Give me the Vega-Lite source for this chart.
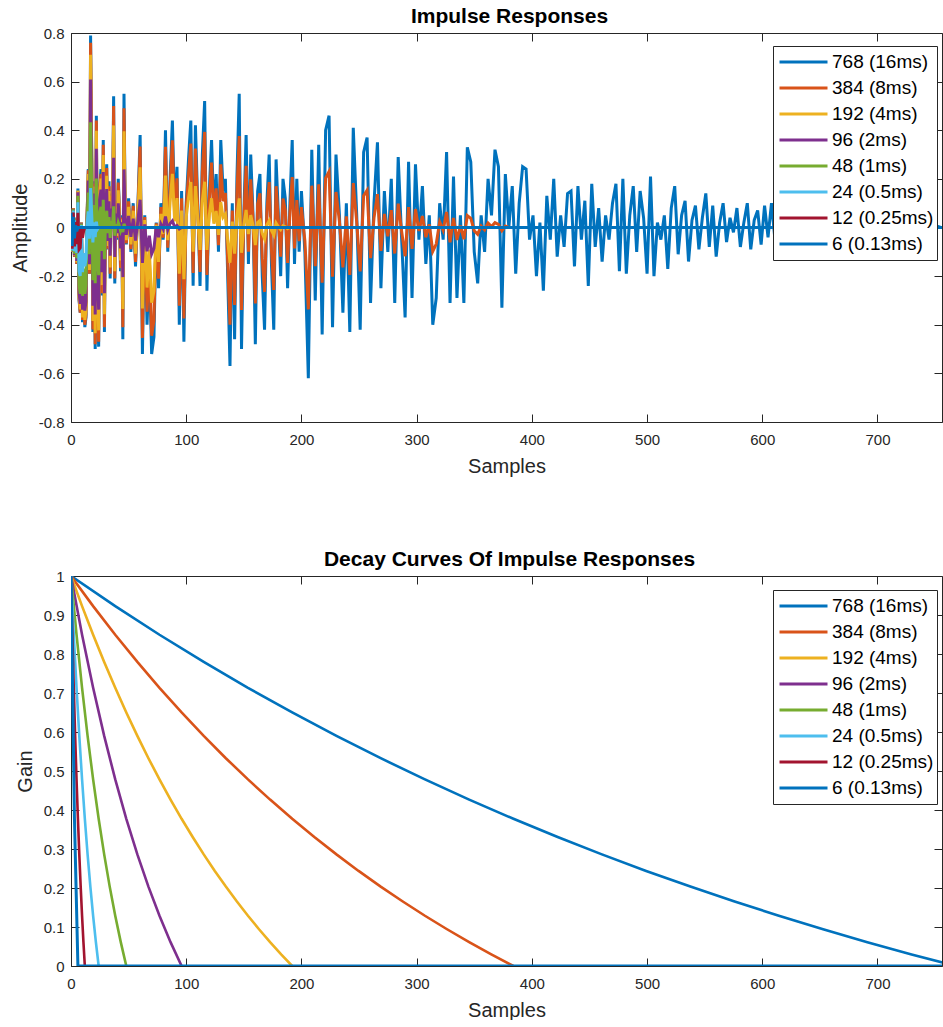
{
"$schema":"https://vega.github.io/schema/vega-lite/v6.json",
"padding":{"left":10,"top":6,"right":0,"bottom":0},
"background":"white",
"bounds":"flush",
"spacing":154,
"config":{"view":{"stroke":null},"font":"Liberation Sans"},
"resolve":{"scale":{"color":"independent"}},
"datasets":{
"ir":[
{"k":"768 (16ms)","x":0,"y":0.06},{"k":"768 (16ms)","x":1,"y":-0.1},{"k":"768 (16ms)","x":2,"y":0.08},{"k":"768 (16ms)","x":3,"y":-0.12},{"k":"768 (16ms)","x":4,"y":0.04},{"k":"768 (16ms)","x":5,"y":-0.15},{"k":"768 (16ms)","x":6,"y":0.16},{"k":"768 (16ms)","x":7,"y":-0.3},{"k":"768 (16ms)","x":8,"y":-0.35},{"k":"768 (16ms)","x":9,"y":0.02},{"k":"768 (16ms)","x":10,"y":-0.39},{"k":"768 (16ms)","x":11,"y":-0.24},{"k":"768 (16ms)","x":12,"y":-0.41},{"k":"768 (16ms)","x":13,"y":-0.37},{"k":"768 (16ms)","x":14,"y":0.05},{"k":"768 (16ms)","x":15,"y":0.24},{"k":"768 (16ms)","x":16,"y":-0.19},{"k":"768 (16ms)","x":17,"y":0.79},{"k":"768 (16ms)","x":18,"y":0.29},{"k":"768 (16ms)","x":19,"y":-0.43},{"k":"768 (16ms)","x":20,"y":0.19},{"k":"768 (16ms)","x":21,"y":-0.5},{"k":"768 (16ms)","x":22,"y":0.46},{"k":"768 (16ms)","x":23,"y":-0.29},{"k":"768 (16ms)","x":24,"y":-0.49},{"k":"768 (16ms)","x":25,"y":0.17},{"k":"768 (16ms)","x":26,"y":0.24},{"k":"768 (16ms)","x":27,"y":-0.28},{"k":"768 (16ms)","x":28,"y":0.36},{"k":"768 (16ms)","x":29,"y":-0.43},{"k":"768 (16ms)","x":30,"y":0.11},{"k":"768 (16ms)","x":31,"y":0.26},{"k":"768 (16ms)","x":32,"y":-0.09},{"k":"768 (16ms)","x":33,"y":0.19},{"k":"768 (16ms)","x":34,"y":-0.21},{"k":"768 (16ms)","x":35,"y":0.14},{"k":"768 (16ms)","x":36,"y":0.05},{"k":"768 (16ms)","x":37,"y":0.54},{"k":"768 (16ms)","x":38,"y":-0.23},{"k":"768 (16ms)","x":39,"y":0.11},{"k":"768 (16ms)","x":40,"y":-0.05},{"k":"768 (16ms)","x":41,"y":0.2},{"k":"768 (16ms)","x":42,"y":0.07},{"k":"768 (16ms)","x":43,"y":-0.18},{"k":"768 (16ms)","x":44,"y":0.05},{"k":"768 (16ms)","x":45,"y":-0.46},{"k":"768 (16ms)","x":46,"y":0.55},{"k":"768 (16ms)","x":47,"y":0.09},{"k":"768 (16ms)","x":48,"y":-0.07},
{"k":"768 (16ms)","x":50,"y":0.12},{"k":"768 (16ms)","x":52,"y":-0.1},{"k":"768 (16ms)","x":54,"y":0.1},{"k":"768 (16ms)","x":56,"y":-0.16},{"k":"768 (16ms)","x":58,"y":0.08},{"k":"768 (16ms)","x":60,"y":0.38},{"k":"768 (16ms)","x":62,"y":-0.52},{"k":"768 (16ms)","x":64,"y":0.05},{"k":"768 (16ms)","x":66,"y":-0.4},{"k":"768 (16ms)","x":68,"y":-0.15},{"k":"768 (16ms)","x":70,"y":-0.52},{"k":"768 (16ms)","x":72,"y":-0.45},{"k":"768 (16ms)","x":74,"y":0.02},{"k":"768 (16ms)","x":76,"y":-0.25},{"k":"768 (16ms)","x":78,"y":0.1},{"k":"768 (16ms)","x":80,"y":-0.05},{"k":"768 (16ms)","x":82,"y":0.4},{"k":"768 (16ms)","x":84,"y":-0.1},{"k":"768 (16ms)","x":86,"y":0.2},{"k":"768 (16ms)","x":88,"y":0.44},{"k":"768 (16ms)","x":90,"y":0.05},{"k":"768 (16ms)","x":92,"y":0.25},{"k":"768 (16ms)","x":94,"y":-0.4},{"k":"768 (16ms)","x":96,"y":0.15},{"k":"768 (16ms)","x":98,"y":-0.47},{"k":"768 (16ms)","x":100,"y":0.1},{"k":"768 (16ms)","x":102,"y":0.28},{"k":"768 (16ms)","x":104,"y":0.44},{"k":"768 (16ms)","x":106,"y":-0.24},{"k":"768 (16ms)","x":108,"y":0.42},{"k":"768 (16ms)","x":110,"y":0.1},{"k":"768 (16ms)","x":112,"y":-0.24},{"k":"768 (16ms)","x":114,"y":0.3},{"k":"768 (16ms)","x":116,"y":0.52},{"k":"768 (16ms)","x":118,"y":-0.26},{"k":"768 (16ms)","x":120,"y":0.15},{"k":"768 (16ms)","x":122,"y":0.36},{"k":"768 (16ms)","x":124,"y":0.05},{"k":"768 (16ms)","x":126,"y":0.22},{"k":"768 (16ms)","x":128,"y":-0.1},{"k":"768 (16ms)","x":130,"y":0.36},{"k":"768 (16ms)","x":132,"y":0.15},{"k":"768 (16ms)","x":134,"y":0.2},{"k":"768 (16ms)","x":136,"y":-0.2},{"k":"768 (16ms)","x":138,"y":-0.57},{"k":"768 (16ms)","x":140,"y":0.1},{"k":"768 (16ms)","x":142,"y":-0.46},{"k":"768 (16ms)","x":144,"y":0.2},{"k":"768 (16ms)","x":146,"y":0.55},{"k":"768 (16ms)","x":148,"y":-0.5},{"k":"768 (16ms)","x":150,"y":0.05},{"k":"768 (16ms)","x":152,"y":0.38},{"k":"768 (16ms)","x":154,"y":-0.15},{"k":"768 (16ms)","x":156,"y":0.3},{"k":"768 (16ms)","x":158,"y":0.05},{"k":"768 (16ms)","x":160,"y":-0.48},{"k":"768 (16ms)","x":162,"y":0.15},{"k":"768 (16ms)","x":164,"y":0.22},{"k":"768 (16ms)","x":166,"y":-0.2},{"k":"768 (16ms)","x":168,"y":-0.42},{"k":"768 (16ms)","x":170,"y":0.1},{"k":"768 (16ms)","x":172,"y":0.3},{"k":"768 (16ms)","x":174,"y":-0.15},{"k":"768 (16ms)","x":176,"y":-0.42},{"k":"768 (16ms)","x":178,"y":0.28},{"k":"768 (16ms)","x":180,"y":0.05},{"k":"768 (16ms)","x":182,"y":-0.2},{"k":"768 (16ms)","x":184,"y":0.2},{"k":"768 (16ms)","x":186,"y":0.12},{"k":"768 (16ms)","x":188,"y":-0.25},{"k":"768 (16ms)","x":190,"y":0.1},{"k":"768 (16ms)","x":192,"y":0.36},{"k":"768 (16ms)","x":194,"y":-0.15},{"k":"768 (16ms)","x":196,"y":0.2},{"k":"768 (16ms)","x":198,"y":-0.1},{"k":"768 (16ms)","x":200,"y":0.15},
{"k":"768 (16ms)","x":203,"y":-0.1},{"k":"768 (16ms)","x":206,"y":-0.62},{"k":"768 (16ms)","x":209,"y":0.32},{"k":"768 (16ms)","x":212,"y":-0.3},{"k":"768 (16ms)","x":215,"y":0.34},{"k":"768 (16ms)","x":218,"y":-0.44},{"k":"768 (16ms)","x":221,"y":0.4},{"k":"768 (16ms)","x":224,"y":0.46},{"k":"768 (16ms)","x":227,"y":-0.41},{"k":"768 (16ms)","x":230,"y":0.3},{"k":"768 (16ms)","x":233,"y":0.05},{"k":"768 (16ms)","x":236,"y":-0.35},{"k":"768 (16ms)","x":239,"y":0.1},{"k":"768 (16ms)","x":242,"y":-0.43},{"k":"768 (16ms)","x":245,"y":0.41},{"k":"768 (16ms)","x":248,"y":0.05},{"k":"768 (16ms)","x":251,"y":-0.42},{"k":"768 (16ms)","x":254,"y":0.31},{"k":"768 (16ms)","x":257,"y":0.37},{"k":"768 (16ms)","x":260,"y":-0.31},{"k":"768 (16ms)","x":263,"y":0.1},{"k":"768 (16ms)","x":266,"y":0.35},{"k":"768 (16ms)","x":269,"y":-0.25},{"k":"768 (16ms)","x":272,"y":0.15},{"k":"768 (16ms)","x":275,"y":-0.1},{"k":"768 (16ms)","x":278,"y":0.2},{"k":"768 (16ms)","x":281,"y":-0.31},{"k":"768 (16ms)","x":284,"y":0.29},{"k":"768 (16ms)","x":287,"y":-0.05},{"k":"768 (16ms)","x":290,"y":-0.37},{"k":"768 (16ms)","x":293,"y":0.27},{"k":"768 (16ms)","x":296,"y":-0.29},{"k":"768 (16ms)","x":299,"y":0.26},{"k":"768 (16ms)","x":302,"y":-0.05},{"k":"768 (16ms)","x":305,"y":0.17},{"k":"768 (16ms)","x":308,"y":-0.15},{"k":"768 (16ms)","x":311,"y":0.05},{"k":"768 (16ms)","x":314,"y":-0.4},{"k":"768 (16ms)","x":317,"y":-0.29},{"k":"768 (16ms)","x":320,"y":0.1},{"k":"768 (16ms)","x":323,"y":-0.05},{"k":"768 (16ms)","x":326,"y":0.31},{"k":"768 (16ms)","x":329,"y":-0.31},{"k":"768 (16ms)","x":332,"y":0.21},{"k":"768 (16ms)","x":335,"y":-0.29},{"k":"768 (16ms)","x":338,"y":0.05},{"k":"768 (16ms)","x":341,"y":-0.31},{"k":"768 (16ms)","x":344,"y":0.33},{"k":"768 (16ms)","x":347,"y":0.27},{"k":"768 (16ms)","x":350,"y":-0.1},{"k":"768 (16ms)","x":353,"y":-0.23},{"k":"768 (16ms)","x":356,"y":0.05},{"k":"768 (16ms)","x":359,"y":-0.1},{"k":"768 (16ms)","x":362,"y":0.2},{"k":"768 (16ms)","x":365,"y":0.05},{"k":"768 (16ms)","x":368,"y":0.32},{"k":"768 (16ms)","x":371,"y":0.25},{"k":"768 (16ms)","x":374,"y":-0.33},{"k":"768 (16ms)","x":377,"y":0.22},{"k":"768 (16ms)","x":380,"y":0},{"k":"768 (16ms)","x":383,"y":0.17},{"k":"768 (16ms)","x":386,"y":-0.19},{"k":"768 (16ms)","x":389,"y":0.1},{"k":"768 (16ms)","x":392,"y":0.25},{"k":"768 (16ms)","x":395,"y":0.24},{"k":"768 (16ms)","x":398,"y":-0.05},{"k":"768 (16ms)","x":401,"y":0.05},{"k":"768 (16ms)","x":404,"y":-0.2},{"k":"768 (16ms)","x":407,"y":0.02},{"k":"768 (16ms)","x":410,"y":-0.26},{"k":"768 (16ms)","x":413,"y":0.13},{"k":"768 (16ms)","x":416,"y":-0.05},{"k":"768 (16ms)","x":419,"y":0.2},{"k":"768 (16ms)","x":422,"y":-0.12},{"k":"768 (16ms)","x":425,"y":0.05},{"k":"768 (16ms)","x":428,"y":-0.08},{"k":"768 (16ms)","x":431,"y":0.14},{"k":"768 (16ms)","x":434,"y":0.15},{"k":"768 (16ms)","x":437,"y":-0.16},{"k":"768 (16ms)","x":440,"y":0.17},{"k":"768 (16ms)","x":443,"y":-0.05},{"k":"768 (16ms)","x":446,"y":0.11},{"k":"768 (16ms)","x":449,"y":-0.24},{"k":"768 (16ms)","x":452,"y":0.18},{"k":"768 (16ms)","x":455,"y":-0.08},{"k":"768 (16ms)","x":458,"y":0.08},{"k":"768 (16ms)","x":461,"y":-0.14},{"k":"768 (16ms)","x":464,"y":0.05},{"k":"768 (16ms)","x":467,"y":-0.05},{"k":"768 (16ms)","x":470,"y":0.1},{"k":"768 (16ms)","x":473,"y":0.18},{"k":"768 (16ms)","x":476,"y":-0.18},{"k":"768 (16ms)","x":479,"y":0.2},{"k":"768 (16ms)","x":482,"y":-0.19},{"k":"768 (16ms)","x":485,"y":0.05},{"k":"768 (16ms)","x":488,"y":0.17},{"k":"768 (16ms)","x":491,"y":-0.1},{"k":"768 (16ms)","x":494,"y":0.15},{"k":"768 (16ms)","x":497,"y":0.04},{"k":"768 (16ms)","x":500,"y":-0.19},{"k":"768 (16ms)","x":503,"y":0.21},{"k":"768 (16ms)","x":506,"y":-0.2},{"k":"768 (16ms)","x":509,"y":0.02},{"k":"768 (16ms)","x":512,"y":-0.05},{"k":"768 (16ms)","x":515,"y":0.05},{"k":"768 (16ms)","x":518,"y":-0.17},{"k":"768 (16ms)","x":521,"y":0.08},{"k":"768 (16ms)","x":524,"y":0.17},{"k":"768 (16ms)","x":527,"y":-0.11},{"k":"768 (16ms)","x":530,"y":0.05},{"k":"768 (16ms)","x":533,"y":0.11},{"k":"768 (16ms)","x":536,"y":-0.14},{"k":"768 (16ms)","x":539,"y":0.03},{"k":"768 (16ms)","x":542,"y":0.09},{"k":"768 (16ms)","x":545,"y":-0.09},{"k":"768 (16ms)","x":548,"y":0.04},{"k":"768 (16ms)","x":551,"y":0.14},{"k":"768 (16ms)","x":554,"y":-0.08},{"k":"768 (16ms)","x":557,"y":0.09},{"k":"768 (16ms)","x":560,"y":-0.12},{"k":"768 (16ms)","x":563,"y":0.02},{"k":"768 (16ms)","x":566,"y":0.1},{"k":"768 (16ms)","x":569,"y":-0.06},{"k":"768 (16ms)","x":572,"y":0.04},{"k":"768 (16ms)","x":575,"y":-0.02},{"k":"768 (16ms)","x":578,"y":0.08},{"k":"768 (16ms)","x":581,"y":-0.08},{"k":"768 (16ms)","x":584,"y":0.02},{"k":"768 (16ms)","x":587,"y":0.1},{"k":"768 (16ms)","x":590,"y":-0.09},{"k":"768 (16ms)","x":593,"y":0.03},{"k":"768 (16ms)","x":596,"y":0.07},{"k":"768 (16ms)","x":599,"y":-0.07},{"k":"768 (16ms)","x":602,"y":0.09},{"k":"768 (16ms)","x":605,"y":-0.04},{"k":"768 (16ms)","x":608,"y":0.1},{"k":"768 (16ms)","x":611,"y":-0.05},{"k":"768 (16ms)","x":617,"y":0.07},{"k":"768 (16ms)","x":623,"y":-0.07},{"k":"768 (16ms)","x":629,"y":0.06},{"k":"768 (16ms)","x":635,"y":-0.06},{"k":"768 (16ms)","x":641,"y":0.05},{"k":"768 (16ms)","x":647,"y":-0.05},{"k":"768 (16ms)","x":653,"y":0.05},{"k":"768 (16ms)","x":659,"y":-0.04},{"k":"768 (16ms)","x":665,"y":0.04},{"k":"768 (16ms)","x":671,"y":-0.04},{"k":"768 (16ms)","x":677,"y":0.03},{"k":"768 (16ms)","x":683,"y":-0.03},{"k":"768 (16ms)","x":689,"y":0.03},{"k":"768 (16ms)","x":695,"y":-0.03},{"k":"768 (16ms)","x":701,"y":0.02},{"k":"768 (16ms)","x":707,"y":-0.02},{"k":"768 (16ms)","x":713,"y":0.02},{"k":"768 (16ms)","x":719,"y":-0.02},{"k":"768 (16ms)","x":725,"y":0.01},{"k":"768 (16ms)","x":731,"y":-0.01},{"k":"768 (16ms)","x":737,"y":0.01},{"k":"768 (16ms)","x":743,"y":-0.01},{"k":"768 (16ms)","x":749,"y":0.01},{"k":"768 (16ms)","x":755,"y":0},
{"k":"384 (8ms)","x":0,"y":0.06},{"k":"384 (8ms)","x":1,"y":-0.1},{"k":"384 (8ms)","x":2,"y":0.08},{"k":"384 (8ms)","x":3,"y":-0.12},{"k":"384 (8ms)","x":4,"y":0.04},{"k":"384 (8ms)","x":5,"y":-0.15},{"k":"384 (8ms)","x":6,"y":0.15},{"k":"384 (8ms)","x":7,"y":-0.29},{"k":"384 (8ms)","x":8,"y":-0.35},{"k":"384 (8ms)","x":9,"y":0.02},{"k":"384 (8ms)","x":10,"y":-0.38},{"k":"384 (8ms)","x":11,"y":-0.24},{"k":"384 (8ms)","x":12,"y":-0.4},{"k":"384 (8ms)","x":13,"y":-0.36},{"k":"384 (8ms)","x":14,"y":0.05},{"k":"384 (8ms)","x":15,"y":0.235},{"k":"384 (8ms)","x":16,"y":-0.19},{"k":"384 (8ms)","x":17,"y":0.76},{"k":"384 (8ms)","x":18,"y":0.28},{"k":"384 (8ms)","x":19,"y":-0.42},{"k":"384 (8ms)","x":20,"y":0.18},{"k":"384 (8ms)","x":21,"y":-0.48},{"k":"384 (8ms)","x":22,"y":0.44},{"k":"384 (8ms)","x":23,"y":-0.27},{"k":"384 (8ms)","x":24,"y":-0.47},{"k":"384 (8ms)","x":25,"y":0.16},{"k":"384 (8ms)","x":26,"y":0.22},{"k":"384 (8ms)","x":27,"y":-0.27},{"k":"384 (8ms)","x":28,"y":0.34},{"k":"384 (8ms)","x":29,"y":-0.41},{"k":"384 (8ms)","x":30,"y":0.105},{"k":"384 (8ms)","x":31,"y":0.245},{"k":"384 (8ms)","x":32,"y":-0.087},{"k":"384 (8ms)","x":33,"y":0.17},{"k":"384 (8ms)","x":34,"y":-0.19},{"k":"384 (8ms)","x":35,"y":0.13},{"k":"384 (8ms)","x":36,"y":0.043},{"k":"384 (8ms)","x":37,"y":0.5},{"k":"384 (8ms)","x":38,"y":-0.21},{"k":"384 (8ms)","x":39,"y":0.1},{"k":"384 (8ms)","x":40,"y":-0.042},{"k":"384 (8ms)","x":41,"y":0.185},{"k":"384 (8ms)","x":42,"y":0.067},{"k":"384 (8ms)","x":43,"y":-0.166},{"k":"384 (8ms)","x":44,"y":0.041},{"k":"384 (8ms)","x":45,"y":-0.41},{"k":"384 (8ms)","x":46,"y":0.49},{"k":"384 (8ms)","x":47,"y":0.08},{"k":"384 (8ms)","x":48,"y":-0.065},
{"k":"384 (8ms)","x":50,"y":0.108},{"k":"384 (8ms)","x":52,"y":-0.089},{"k":"384 (8ms)","x":54,"y":0.089},{"k":"384 (8ms)","x":56,"y":-0.142},{"k":"384 (8ms)","x":58,"y":0.07},{"k":"384 (8ms)","x":60,"y":0.333},{"k":"384 (8ms)","x":62,"y":-0.454},{"k":"384 (8ms)","x":64,"y":0.043},{"k":"384 (8ms)","x":66,"y":-0.346},{"k":"384 (8ms)","x":68,"y":-0.129},{"k":"384 (8ms)","x":70,"y":-0.445},{"k":"384 (8ms)","x":72,"y":-0.383},{"k":"384 (8ms)","x":74,"y":0.017},{"k":"384 (8ms)","x":76,"y":-0.211},{"k":"384 (8ms)","x":78,"y":0.084},{"k":"384 (8ms)","x":80,"y":-0.042},{"k":"384 (8ms)","x":82,"y":0.332},{"k":"384 (8ms)","x":84,"y":-0.083},{"k":"384 (8ms)","x":86,"y":0.164},{"k":"384 (8ms)","x":88,"y":0.359},{"k":"384 (8ms)","x":90,"y":0.041},{"k":"384 (8ms)","x":92,"y":0.202},{"k":"384 (8ms)","x":94,"y":-0.322},{"k":"384 (8ms)","x":96,"y":0.12},{"k":"384 (8ms)","x":98,"y":-0.374},{"k":"384 (8ms)","x":100,"y":0.079},{"k":"384 (8ms)","x":102,"y":0.22},{"k":"384 (8ms)","x":104,"y":0.345},{"k":"384 (8ms)","x":106,"y":-0.187},{"k":"384 (8ms)","x":108,"y":0.325},{"k":"384 (8ms)","x":110,"y":0.077},{"k":"384 (8ms)","x":112,"y":-0.183},{"k":"384 (8ms)","x":114,"y":0.228},{"k":"384 (8ms)","x":116,"y":0.393},{"k":"384 (8ms)","x":118,"y":-0.195},{"k":"384 (8ms)","x":120,"y":0.112},{"k":"384 (8ms)","x":122,"y":0.267},{"k":"384 (8ms)","x":124,"y":0.037},{"k":"384 (8ms)","x":126,"y":0.161},{"k":"384 (8ms)","x":128,"y":-0.073},{"k":"384 (8ms)","x":130,"y":0.26},{"k":"384 (8ms)","x":132,"y":0.108},{"k":"384 (8ms)","x":134,"y":0.142},{"k":"384 (8ms)","x":136,"y":-0.141},{"k":"384 (8ms)","x":138,"y":-0.4},{"k":"384 (8ms)","x":140,"y":0.07},{"k":"384 (8ms)","x":142,"y":-0.319},{"k":"384 (8ms)","x":144,"y":0.138},{"k":"384 (8ms)","x":146,"y":0.376},{"k":"384 (8ms)","x":148,"y":-0.339},{"k":"384 (8ms)","x":150,"y":0.034},{"k":"384 (8ms)","x":152,"y":0.254},{"k":"384 (8ms)","x":154,"y":-0.1},{"k":"384 (8ms)","x":156,"y":0.198},{"k":"384 (8ms)","x":158,"y":0.033},{"k":"384 (8ms)","x":160,"y":-0.312},{"k":"384 (8ms)","x":162,"y":0.097},{"k":"384 (8ms)","x":164,"y":0.141},{"k":"384 (8ms)","x":166,"y":-0.127},{"k":"384 (8ms)","x":168,"y":-0.265},{"k":"384 (8ms)","x":170,"y":0.063},{"k":"384 (8ms)","x":172,"y":0.187},{"k":"384 (8ms)","x":174,"y":-0.093},{"k":"384 (8ms)","x":176,"y":-0.257},{"k":"384 (8ms)","x":178,"y":0.17},{"k":"384 (8ms)","x":180,"y":0.03},{"k":"384 (8ms)","x":182,"y":-0.12},{"k":"384 (8ms)","x":184,"y":0.119},{"k":"384 (8ms)","x":186,"y":0.071},{"k":"384 (8ms)","x":188,"y":-0.146},{"k":"384 (8ms)","x":190,"y":0.058},{"k":"384 (8ms)","x":192,"y":0.207},{"k":"384 (8ms)","x":194,"y":-0.086},{"k":"384 (8ms)","x":196,"y":0.113},{"k":"384 (8ms)","x":198,"y":-0.056},{"k":"384 (8ms)","x":200,"y":0.084},
{"k":"384 (8ms)","x":203,"y":-0.055},{"k":"384 (8ms)","x":206,"y":-0.337},{"k":"384 (8ms)","x":209,"y":0.172},{"k":"384 (8ms)","x":212,"y":-0.159},{"k":"384 (8ms)","x":215,"y":0.178},{"k":"384 (8ms)","x":218,"y":-0.227},{"k":"384 (8ms)","x":221,"y":0.203},{"k":"384 (8ms)","x":224,"y":0.23},{"k":"384 (8ms)","x":227,"y":-0.202},{"k":"384 (8ms)","x":230,"y":0.146},{"k":"384 (8ms)","x":233,"y":0.024},{"k":"384 (8ms)","x":236,"y":-0.164},{"k":"384 (8ms)","x":239,"y":0.046},{"k":"384 (8ms)","x":242,"y":-0.195},{"k":"384 (8ms)","x":245,"y":0.183},{"k":"384 (8ms)","x":248,"y":0.022},{"k":"384 (8ms)","x":251,"y":-0.181},{"k":"384 (8ms)","x":254,"y":0.131},{"k":"384 (8ms)","x":257,"y":0.153},{"k":"384 (8ms)","x":260,"y":-0.126},{"k":"384 (8ms)","x":263,"y":0.04},{"k":"384 (8ms)","x":266,"y":0.137},{"k":"384 (8ms)","x":269,"y":-0.096},{"k":"384 (8ms)","x":272,"y":0.056},{"k":"384 (8ms)","x":275,"y":-0.036},{"k":"384 (8ms)","x":278,"y":0.071},{"k":"384 (8ms)","x":281,"y":-0.107},{"k":"384 (8ms)","x":284,"y":0.098},{"k":"384 (8ms)","x":287,"y":-0.016},{"k":"384 (8ms)","x":290,"y":-0.118},{"k":"384 (8ms)","x":293,"y":0.084},{"k":"384 (8ms)","x":296,"y":-0.088},{"k":"384 (8ms)","x":299,"y":0.076},{"k":"384 (8ms)","x":302,"y":-0.014},{"k":"384 (8ms)","x":305,"y":0.047},{"k":"384 (8ms)","x":308,"y":-0.04},{"k":"384 (8ms)","x":311,"y":0.013},{"k":"384 (8ms)","x":314,"y":-0.098},{"k":"384 (8ms)","x":317,"y":-0.068},{"k":"384 (8ms)","x":320,"y":0.023},{"k":"384 (8ms)","x":323,"y":-0.011},{"k":"384 (8ms)","x":326,"y":0.064},{"k":"384 (8ms)","x":329,"y":-0.061},{"k":"384 (8ms)","x":332,"y":0.039},{"k":"384 (8ms)","x":335,"y":-0.051},{"k":"384 (8ms)","x":338,"y":0.008},{"k":"384 (8ms)","x":341,"y":-0.048},{"k":"384 (8ms)","x":344,"y":0.049},{"k":"384 (8ms)","x":347,"y":0.038},{"k":"384 (8ms)","x":350,"y":-0.013},{"k":"384 (8ms)","x":353,"y":-0.028},{"k":"384 (8ms)","x":356,"y":0.006},{"k":"384 (8ms)","x":359,"y":-0.01},{"k":"384 (8ms)","x":362,"y":0.018},{"k":"384 (8ms)","x":365,"y":0.004},{"k":"384 (8ms)","x":368,"y":0.02},{"k":"384 (8ms)","x":371,"y":0.013},{"k":"384 (8ms)","x":374,"y":-0.013},{"k":"384 (8ms)","x":377,"y":0.006},{"k":"384 (8ms)","x":380,"y":0},{"k":"384 (8ms)","x":384,"y":0},
{"k":"192 (4ms)","x":0,"y":0.06},{"k":"192 (4ms)","x":1,"y":-0.1},{"k":"192 (4ms)","x":2,"y":0.078},{"k":"192 (4ms)","x":3,"y":-0.116},{"k":"192 (4ms)","x":4,"y":0.039},{"k":"192 (4ms)","x":5,"y":-0.144},{"k":"192 (4ms)","x":6,"y":0.152},{"k":"192 (4ms)","x":7,"y":-0.283},{"k":"192 (4ms)","x":8,"y":-0.337},{"k":"192 (4ms)","x":9,"y":0.019},{"k":"192 (4ms)","x":10,"y":-0.37},{"k":"192 (4ms)","x":11,"y":-0.229},{"k":"192 (4ms)","x":12,"y":-0.38},{"k":"192 (4ms)","x":13,"y":-0.34},{"k":"192 (4ms)","x":14,"y":0.045},{"k":"192 (4ms)","x":15,"y":0.22},{"k":"192 (4ms)","x":16,"y":-0.175},{"k":"192 (4ms)","x":17,"y":0.71},{"k":"192 (4ms)","x":18,"y":0.26},{"k":"192 (4ms)","x":19,"y":-0.385},{"k":"192 (4ms)","x":20,"y":0.169},{"k":"192 (4ms)","x":21,"y":-0.435},{"k":"192 (4ms)","x":22,"y":0.398},{"k":"192 (4ms)","x":23,"y":-0.247},{"k":"192 (4ms)","x":24,"y":-0.423},{"k":"192 (4ms)","x":25,"y":0.145},{"k":"192 (4ms)","x":26,"y":0.201},{"k":"192 (4ms)","x":27,"y":-0.237},{"k":"192 (4ms)","x":28,"y":0.298},{"k":"192 (4ms)","x":29,"y":-0.357},{"k":"192 (4ms)","x":30,"y":0.092},{"k":"192 (4ms)","x":31,"y":0.213},{"k":"192 (4ms)","x":32,"y":-0.076},{"k":"192 (4ms)","x":33,"y":0.15},{"k":"192 (4ms)","x":34,"y":-0.164},{"k":"192 (4ms)","x":35,"y":0.11},{"k":"192 (4ms)","x":36,"y":0.036},{"k":"192 (4ms)","x":37,"y":0.42},{"k":"192 (4ms)","x":38,"y":-0.18},{"k":"192 (4ms)","x":39,"y":0.086},{"k":"192 (4ms)","x":40,"y":-0.035},{"k":"192 (4ms)","x":41,"y":0.153},{"k":"192 (4ms)","x":42,"y":0.055},{"k":"192 (4ms)","x":43,"y":-0.136},{"k":"192 (4ms)","x":44,"y":0.034},{"k":"192 (4ms)","x":45,"y":-0.335},{"k":"192 (4ms)","x":46,"y":0.396},{"k":"192 (4ms)","x":47,"y":0.065},{"k":"192 (4ms)","x":48,"y":-0.052},
{"k":"192 (4ms)","x":50,"y":0.085},{"k":"192 (4ms)","x":52,"y":-0.07},{"k":"192 (4ms)","x":54,"y":0.069},{"k":"192 (4ms)","x":56,"y":-0.108},{"k":"192 (4ms)","x":58,"y":0.053},{"k":"192 (4ms)","x":60,"y":0.248},{"k":"192 (4ms)","x":62,"y":-0.333},{"k":"192 (4ms)","x":64,"y":0.031},{"k":"192 (4ms)","x":66,"y":-0.247},{"k":"192 (4ms)","x":68,"y":-0.091},{"k":"192 (4ms)","x":70,"y":-0.309},{"k":"192 (4ms)","x":72,"y":-0.262},{"k":"192 (4ms)","x":74,"y":0.011},{"k":"192 (4ms)","x":76,"y":-0.142},{"k":"192 (4ms)","x":78,"y":0.056},{"k":"192 (4ms)","x":80,"y":-0.027},{"k":"192 (4ms)","x":82,"y":0.214},{"k":"192 (4ms)","x":84,"y":-0.052},{"k":"192 (4ms)","x":86,"y":0.103},{"k":"192 (4ms)","x":88,"y":0.221},{"k":"192 (4ms)","x":90,"y":0.025},{"k":"192 (4ms)","x":92,"y":0.121},{"k":"192 (4ms)","x":94,"y":-0.19},{"k":"192 (4ms)","x":96,"y":0.07},{"k":"192 (4ms)","x":98,"y":-0.213},{"k":"192 (4ms)","x":100,"y":0.044},{"k":"192 (4ms)","x":102,"y":0.122},{"k":"192 (4ms)","x":104,"y":0.187},{"k":"192 (4ms)","x":106,"y":-0.1},{"k":"192 (4ms)","x":108,"y":0.17},{"k":"192 (4ms)","x":110,"y":0.039},{"k":"192 (4ms)","x":112,"y":-0.092},{"k":"192 (4ms)","x":114,"y":0.112},{"k":"192 (4ms)","x":116,"y":0.188},{"k":"192 (4ms)","x":118,"y":-0.092},{"k":"192 (4ms)","x":120,"y":0.051},{"k":"192 (4ms)","x":122,"y":0.12},{"k":"192 (4ms)","x":124,"y":0.016},{"k":"192 (4ms)","x":126,"y":0.068},{"k":"192 (4ms)","x":128,"y":-0.03},{"k":"192 (4ms)","x":130,"y":0.104},{"k":"192 (4ms)","x":132,"y":0.042},{"k":"192 (4ms)","x":134,"y":0.055},{"k":"192 (4ms)","x":136,"y":-0.053},{"k":"192 (4ms)","x":138,"y":-0.145},{"k":"192 (4ms)","x":140,"y":0.024},{"k":"192 (4ms)","x":142,"y":-0.108},{"k":"192 (4ms)","x":144,"y":0.045},{"k":"192 (4ms)","x":146,"y":0.12},{"k":"192 (4ms)","x":148,"y":-0.104},{"k":"192 (4ms)","x":150,"y":0.01},{"k":"192 (4ms)","x":152,"y":0.072},{"k":"192 (4ms)","x":154,"y":-0.027},{"k":"192 (4ms)","x":156,"y":0.051},{"k":"192 (4ms)","x":158,"y":0.008},{"k":"192 (4ms)","x":160,"y":-0.072},{"k":"192 (4ms)","x":162,"y":0.021},{"k":"192 (4ms)","x":164,"y":0.029},{"k":"192 (4ms)","x":166,"y":-0.024},{"k":"192 (4ms)","x":168,"y":-0.047},{"k":"192 (4ms)","x":170,"y":0.01},{"k":"192 (4ms)","x":172,"y":0.028},{"k":"192 (4ms)","x":174,"y":-0.012},{"k":"192 (4ms)","x":176,"y":-0.031},{"k":"192 (4ms)","x":178,"y":0.018},{"k":"192 (4ms)","x":180,"y":0.003},{"k":"192 (4ms)","x":182,"y":-0.009},{"k":"192 (4ms)","x":184,"y":0.007},{"k":"192 (4ms)","x":186,"y":0.003},{"k":"192 (4ms)","x":188,"y":-0.005},{"k":"192 (4ms)","x":190,"y":0.001},{"k":"192 (4ms)","x":192,"y":0},
{"k":"96 (2ms)","x":0,"y":0.06},{"k":"96 (2ms)","x":1,"y":-0.098},{"k":"96 (2ms)","x":2,"y":0.077},{"k":"96 (2ms)","x":3,"y":-0.114},{"k":"96 (2ms)","x":4,"y":0.037},{"k":"96 (2ms)","x":5,"y":-0.138},{"k":"96 (2ms)","x":6,"y":0.145},{"k":"96 (2ms)","x":7,"y":-0.267},{"k":"96 (2ms)","x":8,"y":-0.314},{"k":"96 (2ms)","x":9,"y":0.017},{"k":"96 (2ms)","x":10,"y":-0.338},{"k":"96 (2ms)","x":11,"y":-0.207},{"k":"96 (2ms)","x":12,"y":-0.342},{"k":"96 (2ms)","x":13,"y":-0.304},{"k":"96 (2ms)","x":14,"y":0.039},{"k":"96 (2ms)","x":15,"y":0.193},{"k":"96 (2ms)","x":16,"y":-0.151},{"k":"96 (2ms)","x":17,"y":0.609},{"k":"96 (2ms)","x":18,"y":0.219},{"k":"96 (2ms)","x":19,"y":-0.322},{"k":"96 (2ms)","x":20,"y":0.14},{"k":"96 (2ms)","x":21,"y":-0.358},{"k":"96 (2ms)","x":22,"y":0.324},{"k":"96 (2ms)","x":23,"y":-0.199},{"k":"96 (2ms)","x":24,"y":-0.338},{"k":"96 (2ms)","x":25,"y":0.115},{"k":"96 (2ms)","x":26,"y":0.156},{"k":"96 (2ms)","x":27,"y":-0.184},{"k":"96 (2ms)","x":28,"y":0.228},{"k":"96 (2ms)","x":29,"y":-0.27},{"k":"96 (2ms)","x":30,"y":0.069},{"k":"96 (2ms)","x":31,"y":0.158},{"k":"96 (2ms)","x":32,"y":-0.055},{"k":"96 (2ms)","x":33,"y":0.108},{"k":"96 (2ms)","x":34,"y":-0.116},{"k":"96 (2ms)","x":35,"y":0.078},{"k":"96 (2ms)","x":36,"y":0.025},{"k":"96 (2ms)","x":37,"y":0.287},{"k":"96 (2ms)","x":38,"y":-0.121},{"k":"96 (2ms)","x":39,"y":0.057},{"k":"96 (2ms)","x":40,"y":-0.023},{"k":"96 (2ms)","x":41,"y":0.099},{"k":"96 (2ms)","x":42,"y":0.035},{"k":"96 (2ms)","x":43,"y":-0.086},{"k":"96 (2ms)","x":44,"y":0.021},{"k":"96 (2ms)","x":45,"y":-0.204},{"k":"96 (2ms)","x":46,"y":0.239},{"k":"96 (2ms)","x":47,"y":0.039},{"k":"96 (2ms)","x":48,"y":-0.03},
{"k":"96 (2ms)","x":50,"y":0.048},{"k":"96 (2ms)","x":52,"y":-0.038},{"k":"96 (2ms)","x":54,"y":0.036},{"k":"96 (2ms)","x":56,"y":-0.054},{"k":"96 (2ms)","x":58,"y":0.026},{"k":"96 (2ms)","x":60,"y":0.114},{"k":"96 (2ms)","x":62,"y":-0.146},{"k":"96 (2ms)","x":64,"y":0.013},{"k":"96 (2ms)","x":66,"y":-0.098},{"k":"96 (2ms)","x":68,"y":-0.034},{"k":"96 (2ms)","x":70,"y":-0.109},{"k":"96 (2ms)","x":72,"y":-0.086},{"k":"96 (2ms)","x":74,"y":0.003},{"k":"96 (2ms)","x":76,"y":-0.04},{"k":"96 (2ms)","x":78,"y":0.014},{"k":"96 (2ms)","x":80,"y":-0.006},{"k":"96 (2ms)","x":82,"y":0.045},{"k":"96 (2ms)","x":84,"y":-0.01},{"k":"96 (2ms)","x":86,"y":0.016},{"k":"96 (2ms)","x":88,"y":0.027},{"k":"96 (2ms)","x":90,"y":0.002},{"k":"96 (2ms)","x":92,"y":0.008},{"k":"96 (2ms)","x":94,"y":-0.006},{"k":"96 (2ms)","x":96,"y":0},
{"k":"48 (1ms)","x":0,"y":0.06},{"k":"48 (1ms)","x":1,"y":-0.097},{"k":"48 (1ms)","x":2,"y":0.075},{"k":"48 (1ms)","x":3,"y":-0.108},{"k":"48 (1ms)","x":4,"y":0.035},{"k":"48 (1ms)","x":5,"y":-0.126},{"k":"48 (1ms)","x":6,"y":0.13},{"k":"48 (1ms)","x":7,"y":-0.236},{"k":"48 (1ms)","x":8,"y":-0.273},{"k":"48 (1ms)","x":9,"y":0.015},{"k":"48 (1ms)","x":10,"y":-0.281},{"k":"48 (1ms)","x":11,"y":-0.169},{"k":"48 (1ms)","x":12,"y":-0.273},{"k":"48 (1ms)","x":13,"y":-0.238},{"k":"48 (1ms)","x":14,"y":0.03},{"k":"48 (1ms)","x":15,"y":0.144},{"k":"48 (1ms)","x":16,"y":-0.11},{"k":"48 (1ms)","x":17,"y":0.433},{"k":"48 (1ms)","x":18,"y":0.152},{"k":"48 (1ms)","x":19,"y":-0.217},{"k":"48 (1ms)","x":20,"y":0.092},{"k":"48 (1ms)","x":21,"y":-0.229},{"k":"48 (1ms)","x":22,"y":0.201},{"k":"48 (1ms)","x":23,"y":-0.119},{"k":"48 (1ms)","x":24,"y":-0.196},{"k":"48 (1ms)","x":25,"y":0.064},{"k":"48 (1ms)","x":26,"y":0.085},{"k":"48 (1ms)","x":27,"y":-0.096},{"k":"48 (1ms)","x":28,"y":0.114},{"k":"48 (1ms)","x":29,"y":-0.13},{"k":"48 (1ms)","x":30,"y":0.032},{"k":"48 (1ms)","x":31,"y":0.069},{"k":"48 (1ms)","x":32,"y":-0.023},{"k":"48 (1ms)","x":33,"y":0.043},{"k":"48 (1ms)","x":34,"y":-0.043},{"k":"48 (1ms)","x":35,"y":0.027},{"k":"48 (1ms)","x":36,"y":0.008},{"k":"48 (1ms)","x":37,"y":0.087},{"k":"48 (1ms)","x":38,"y":-0.034},{"k":"48 (1ms)","x":39,"y":0.014},{"k":"48 (1ms)","x":40,"y":-0.005},{"k":"48 (1ms)","x":41,"y":0.02},{"k":"48 (1ms)","x":42,"y":0.006},{"k":"48 (1ms)","x":43,"y":-0.013},{"k":"48 (1ms)","x":44,"y":0.003},{"k":"48 (1ms)","x":45,"y":-0.019},{"k":"48 (1ms)","x":46,"y":0.015},{"k":"48 (1ms)","x":47,"y":0.001},{"k":"48 (1ms)","x":48,"y":0},
{"k":"24 (0.5ms)","x":0,"y":0.06},{"k":"24 (0.5ms)","x":1,"y":-0.094},{"k":"24 (0.5ms)","x":2,"y":0.07},{"k":"24 (0.5ms)","x":3,"y":-0.098},{"k":"24 (0.5ms)","x":4,"y":0.03},{"k":"24 (0.5ms)","x":5,"y":-0.105},{"k":"24 (0.5ms)","x":6,"y":0.104},{"k":"24 (0.5ms)","x":7,"y":-0.18},{"k":"24 (0.5ms)","x":8,"y":-0.199},{"k":"24 (0.5ms)","x":9,"y":0.01},{"k":"24 (0.5ms)","x":10,"y":-0.184},{"k":"24 (0.5ms)","x":11,"y":-0.105},{"k":"24 (0.5ms)","x":12,"y":-0.159},{"k":"24 (0.5ms)","x":13,"y":-0.129},{"k":"24 (0.5ms)","x":14,"y":0.015},{"k":"24 (0.5ms)","x":15,"y":0.066},{"k":"24 (0.5ms)","x":16,"y":-0.046},{"k":"24 (0.5ms)","x":17,"y":0.162},{"k":"24 (0.5ms)","x":18,"y":0.05},{"k":"24 (0.5ms)","x":19,"y":-0.061},{"k":"24 (0.5ms)","x":20,"y":0.021},{"k":"24 (0.5ms)","x":21,"y":-0.04},{"k":"24 (0.5ms)","x":22,"y":0.024},{"k":"24 (0.5ms)","x":23,"y":-0.007},{"k":"24 (0.5ms)","x":24,"y":0},
{"k":"12 (0.25ms)","x":0,"y":0.06},{"k":"12 (0.25ms)","x":1,"y":-0.087},{"k":"12 (0.25ms)","x":2,"y":0.061},{"k":"12 (0.25ms)","x":3,"y":-0.078},{"k":"12 (0.25ms)","x":4,"y":0.022},{"k":"12 (0.25ms)","x":5,"y":-0.069},{"k":"12 (0.25ms)","x":6,"y":0.06},{"k":"12 (0.25ms)","x":7,"y":-0.09},{"k":"12 (0.25ms)","x":8,"y":-0.083},{"k":"12 (0.25ms)","x":9,"y":0.003},{"k":"12 (0.25ms)","x":10,"y":-0.042},{"k":"12 (0.25ms)","x":11,"y":-0.013},{"k":"12 (0.25ms)","x":12,"y":0},
{"k":"6 (0.13ms)","x":0,"y":0.06},{"k":"6 (0.13ms)","x":1,"y":-0.076},{"k":"6 (0.13ms)","x":2,"y":0.044},{"k":"6 (0.13ms)","x":3,"y":-0.045},{"k":"6 (0.13ms)","x":4,"y":0.009},{"k":"6 (0.13ms)","x":5,"y":-0.016},{"k":"6 (0.13ms)","x":6,"y":0},{"k":"6 (0.13ms)","x":768,"y":0}
],
"dc":[
{"k":"768 (16ms)","x":0,"y":1},{"k":"768 (16ms)","x":38.4,"y":0.9228},{"k":"768 (16ms)","x":76.8,"y":0.8494},{"k":"768 (16ms)","x":115.2,"y":0.7797},{"k":"768 (16ms)","x":153.6,"y":0.7132},{"k":"768 (16ms)","x":192,"y":0.6501},{"k":"768 (16ms)","x":230.4,"y":0.59},{"k":"768 (16ms)","x":268.8,"y":0.5328},{"k":"768 (16ms)","x":307.2,"y":0.4784},{"k":"768 (16ms)","x":345.6,"y":0.4267},{"k":"768 (16ms)","x":384,"y":0.3775},{"k":"768 (16ms)","x":422.4,"y":0.3308},{"k":"768 (16ms)","x":460.8,"y":0.2862},{"k":"768 (16ms)","x":499.2,"y":0.2438},{"k":"768 (16ms)","x":537.6,"y":0.2036},{"k":"768 (16ms)","x":576,"y":0.1653},{"k":"768 (16ms)","x":614.4,"y":0.1288},{"k":"768 (16ms)","x":652.8,"y":0.0942},{"k":"768 (16ms)","x":691.2,"y":0.0612},{"k":"768 (16ms)","x":729.6,"y":0.0298},{"k":"768 (16ms)","x":768,"y":0},
{"k":"384 (8ms)","x":0,"y":1},{"k":"384 (8ms)","x":19.2,"y":0.9228},{"k":"384 (8ms)","x":38.4,"y":0.8494},{"k":"384 (8ms)","x":57.6,"y":0.7797},{"k":"384 (8ms)","x":76.8,"y":0.7132},{"k":"384 (8ms)","x":96,"y":0.6501},{"k":"384 (8ms)","x":115.2,"y":0.59},{"k":"384 (8ms)","x":134.4,"y":0.5328},{"k":"384 (8ms)","x":153.6,"y":0.4784},{"k":"384 (8ms)","x":172.8,"y":0.4267},{"k":"384 (8ms)","x":192,"y":0.3775},{"k":"384 (8ms)","x":211.2,"y":0.3308},{"k":"384 (8ms)","x":230.4,"y":0.2862},{"k":"384 (8ms)","x":249.6,"y":0.2438},{"k":"384 (8ms)","x":268.8,"y":0.2036},{"k":"384 (8ms)","x":288,"y":0.1653},{"k":"384 (8ms)","x":307.2,"y":0.1288},{"k":"384 (8ms)","x":326.4,"y":0.0942},{"k":"384 (8ms)","x":345.6,"y":0.0612},{"k":"384 (8ms)","x":364.8,"y":0.0298},{"k":"384 (8ms)","x":384,"y":0},
{"k":"192 (4ms)","x":0,"y":1},{"k":"192 (4ms)","x":9.6,"y":0.9228},{"k":"192 (4ms)","x":19.2,"y":0.8494},{"k":"192 (4ms)","x":28.8,"y":0.7797},{"k":"192 (4ms)","x":38.4,"y":0.7132},{"k":"192 (4ms)","x":48,"y":0.6501},{"k":"192 (4ms)","x":57.6,"y":0.59},{"k":"192 (4ms)","x":67.2,"y":0.5328},{"k":"192 (4ms)","x":76.8,"y":0.4784},{"k":"192 (4ms)","x":86.4,"y":0.4267},{"k":"192 (4ms)","x":96,"y":0.3775},{"k":"192 (4ms)","x":105.6,"y":0.3308},{"k":"192 (4ms)","x":115.2,"y":0.2862},{"k":"192 (4ms)","x":124.8,"y":0.2438},{"k":"192 (4ms)","x":134.4,"y":0.2036},{"k":"192 (4ms)","x":144,"y":0.1653},{"k":"192 (4ms)","x":153.6,"y":0.1288},{"k":"192 (4ms)","x":163.2,"y":0.0942},{"k":"192 (4ms)","x":172.8,"y":0.0612},{"k":"192 (4ms)","x":182.4,"y":0.0298},{"k":"192 (4ms)","x":192,"y":0},
{"k":"96 (2ms)","x":0,"y":1},{"k":"96 (2ms)","x":9.6,"y":0.8494},{"k":"96 (2ms)","x":19.2,"y":0.7132},{"k":"96 (2ms)","x":28.8,"y":0.59},{"k":"96 (2ms)","x":38.4,"y":0.4784},{"k":"96 (2ms)","x":48,"y":0.3775},{"k":"96 (2ms)","x":57.6,"y":0.2862},{"k":"96 (2ms)","x":67.2,"y":0.2036},{"k":"96 (2ms)","x":76.8,"y":0.1288},{"k":"96 (2ms)","x":86.4,"y":0.0612},{"k":"96 (2ms)","x":96,"y":0},
{"k":"48 (1ms)","x":0,"y":1},{"k":"48 (1ms)","x":4.8,"y":0.8494},{"k":"48 (1ms)","x":9.6,"y":0.7132},{"k":"48 (1ms)","x":14.4,"y":0.59},{"k":"48 (1ms)","x":19.2,"y":0.4784},{"k":"48 (1ms)","x":24,"y":0.3775},{"k":"48 (1ms)","x":28.8,"y":0.2862},{"k":"48 (1ms)","x":33.6,"y":0.2036},{"k":"48 (1ms)","x":38.4,"y":0.1288},{"k":"48 (1ms)","x":43.2,"y":0.0612},{"k":"48 (1ms)","x":48,"y":0},
{"k":"24 (0.5ms)","x":0,"y":1},{"k":"24 (0.5ms)","x":2.4,"y":0.8494},{"k":"24 (0.5ms)","x":4.8,"y":0.7132},{"k":"24 (0.5ms)","x":7.2,"y":0.59},{"k":"24 (0.5ms)","x":9.6,"y":0.4784},{"k":"24 (0.5ms)","x":12,"y":0.3775},{"k":"24 (0.5ms)","x":14.4,"y":0.2862},{"k":"24 (0.5ms)","x":16.8,"y":0.2036},{"k":"24 (0.5ms)","x":19.2,"y":0.1288},{"k":"24 (0.5ms)","x":21.6,"y":0.0612},{"k":"24 (0.5ms)","x":24,"y":0},
{"k":"12 (0.25ms)","x":0,"y":1},{"k":"12 (0.25ms)","x":1.2,"y":0.8494},{"k":"12 (0.25ms)","x":2.4,"y":0.7132},{"k":"12 (0.25ms)","x":3.6,"y":0.59},{"k":"12 (0.25ms)","x":4.8,"y":0.4784},{"k":"12 (0.25ms)","x":6,"y":0.3775},{"k":"12 (0.25ms)","x":7.2,"y":0.2862},{"k":"12 (0.25ms)","x":8.4,"y":0.2036},{"k":"12 (0.25ms)","x":9.6,"y":0.1288},{"k":"12 (0.25ms)","x":10.8,"y":0.0612},{"k":"12 (0.25ms)","x":12,"y":0},
{"k":"6 (0.13ms)","x":0,"y":1},{"k":"6 (0.13ms)","x":3,"y":0.3775},{"k":"6 (0.13ms)","x":6,"y":0},{"k":"6 (0.13ms)","x":768,"y":0}
]
},
"vconcat":[
{
"width":871,"height":389,
"title":{"text":"Impulse Responses","font":"Liberation Sans","fontSize":21,"fontWeight":"bold","color":"#000000","anchor":"middle","offset":-18,"baseline":"alphabetic","dx":3},
"data":{"name":"ir"},
"encoding":{
"x":{"field":"x","type":"quantitative","scale":{"domain":[0,756],"nice":false,"zero":false},"axis":null},
"y":{"field":"y","type":"quantitative","scale":{"domain":[-0.8,0.8],"nice":false},"axis":null},
"color":{"field":"k","type":"nominal","scale":{"domain":["768 (16ms)","384 (8ms)","192 (4ms)","96 (2ms)","48 (1ms)","24 (0.5ms)","12 (0.25ms)","6 (0.13ms)"],"range":["#0072BD","#D95319","#EDB120","#7E2F8E","#77AC30","#4DBEEE","#A2142F","#0072BD"]},
"legend":{"orient":"none","legendX":702,"legendY":13,"title":null,"symbolType":"stroke","symbolSize":2304,"symbolStrokeWidth":3,"clipHeight":26,"rowPadding":0,"padding":3,"symbolOffset":2,"labelOffset":3,"labelFont":"Liberation Sans","labelFontSize":19,"labelColor":"#000000","strokeColor":"#262626","fillColor":"#ffffff","cornerRadius":0,"labelLimit":0}}
},
"layer":[
{"transform":[{"filter":"datum.k==='768 (16ms)'"}],"mark":{"type":"line","strokeWidth":3,"clip":true},
"encoding":{
"x":{"field":"x","type":"quantitative","scale":{"domain":[0,756],"nice":false,"zero":false},"axis":{"orient":"bottom","values":[0,100,200,300,400,500,600,700],"title":"Samples","grid":false,"tickSize":-8,"tickColor":"#262626","domainColor":"#262626","labelColor":"#262626","titleColor":"#262626","labelFont":"Liberation Sans","labelFontSize":15,"labelPadding":18,"labelFlush":false,"titleFont":"Liberation Sans","titleFontSize":20,"titleFontWeight":"normal","titlePadding":9}},
"y":{"field":"y","type":"quantitative","scale":{"domain":[-0.8,0.8],"nice":false},"axis":{"orient":"left","values":[-0.8,-0.6,-0.4,-0.2,0,0.2,0.4,0.6,0.8],"labelExpr":"''+datum.value","title":"Amplitude","grid":false,"tickSize":-8,"tickColor":"#262626","domainColor":"#262626","labelColor":"#262626","titleColor":"#262626","labelFont":"Liberation Sans","labelFontSize":15,"labelPadding":15,"labelFlush":false,"titleFont":"Liberation Sans","titleFontSize":20,"titleFontWeight":"normal","titlePadding":8}}
}},
{"transform":[{"filter":"datum.k==='384 (8ms)'"}],"mark":{"type":"line","strokeWidth":3,"clip":true}},
{"transform":[{"filter":"datum.k==='192 (4ms)'"}],"mark":{"type":"line","strokeWidth":3,"clip":true}},
{"transform":[{"filter":"datum.k==='96 (2ms)'"}],"mark":{"type":"line","strokeWidth":3,"clip":true}},
{"transform":[{"filter":"datum.k==='48 (1ms)'"}],"mark":{"type":"line","strokeWidth":3,"clip":true}},
{"transform":[{"filter":"datum.k==='24 (0.5ms)'"}],"mark":{"type":"line","strokeWidth":3,"clip":true}},
{"transform":[{"filter":"datum.k==='12 (0.25ms)'"}],"mark":{"type":"line","strokeWidth":3,"clip":true}},
{"transform":[{"filter":"datum.k==='6 (0.13ms)'"}],"mark":{"type":"line","strokeWidth":3,"clip":true},
"encoding":{
"x":{"field":"x","type":"quantitative","scale":{"domain":[0,756],"nice":false,"zero":false},"axis":{"orient":"top","values":[0,100,200,300,400,500,600,700],"labels":false,"title":null,"grid":false,"tickSize":-8,"tickColor":"#262626","domainColor":"#262626"}},
"y":{"field":"y","type":"quantitative","scale":{"domain":[-0.8,0.8],"nice":false},"axis":{"orient":"right","values":[-0.8,-0.6,-0.4,-0.2,0,0.2,0.4,0.6,0.8],"labels":false,"title":null,"grid":false,"tickSize":-8,"tickColor":"#262626","domainColor":"#262626"}}
}}
],
"resolve":{"axis":{"x":"independent","y":"independent"}}
},
{
"width":871,"height":390,
"title":{"text":"Decay Curves Of Impulse Responses","font":"Liberation Sans","fontSize":21,"fontWeight":"bold","color":"#000000","anchor":"middle","offset":-18,"baseline":"alphabetic","dx":3},
"data":{"name":"dc"},
"encoding":{
"x":{"field":"x","type":"quantitative","scale":{"domain":[0,756],"nice":false,"zero":false},"axis":null},
"y":{"field":"y","type":"quantitative","scale":{"domain":[0,1],"nice":false},"axis":null},
"color":{"field":"k","type":"nominal","scale":{"domain":["768 (16ms)","384 (8ms)","192 (4ms)","96 (2ms)","48 (1ms)","24 (0.5ms)","12 (0.25ms)","6 (0.13ms)"],"range":["#0072BD","#D95319","#EDB120","#7E2F8E","#77AC30","#4DBEEE","#A2142F","#0072BD"]},
"legend":{"orient":"none","legendX":702,"legendY":14,"title":null,"symbolType":"stroke","symbolSize":2304,"symbolStrokeWidth":3,"clipHeight":26,"rowPadding":0,"padding":3,"symbolOffset":2,"labelOffset":3,"labelFont":"Liberation Sans","labelFontSize":19,"labelColor":"#000000","strokeColor":"#262626","fillColor":"#ffffff","cornerRadius":0,"labelLimit":0}}
},
"layer":[
{"transform":[{"filter":"datum.k==='768 (16ms)'"}],"mark":{"type":"line","strokeWidth":2.6,"clip":true},
"encoding":{
"x":{"field":"x","type":"quantitative","scale":{"domain":[0,756],"nice":false,"zero":false},"axis":{"orient":"bottom","values":[0,100,200,300,400,500,600,700],"title":"Samples","grid":false,"tickSize":-8,"tickColor":"#262626","domainColor":"#262626","labelColor":"#262626","titleColor":"#262626","labelFont":"Liberation Sans","labelFontSize":15,"labelPadding":18,"labelFlush":false,"titleFont":"Liberation Sans","titleFontSize":20,"titleFontWeight":"normal","titlePadding":9}},
"y":{"field":"y","type":"quantitative","scale":{"domain":[0,1],"nice":false},"axis":{"orient":"left","values":[0,0.1,0.2,0.3,0.4,0.5,0.6,0.7,0.8,0.9,1],"labelExpr":"''+datum.value","title":"Gain","grid":false,"tickSize":-8,"tickColor":"#262626","domainColor":"#262626","labelColor":"#262626","titleColor":"#262626","labelFont":"Liberation Sans","labelFontSize":15,"labelPadding":15,"labelFlush":false,"titleFont":"Liberation Sans","titleFontSize":20,"titleFontWeight":"normal","titlePadding":8}}
}},
{"transform":[{"filter":"datum.k==='384 (8ms)'"}],"mark":{"type":"line","strokeWidth":2.6,"clip":true}},
{"transform":[{"filter":"datum.k==='192 (4ms)'"}],"mark":{"type":"line","strokeWidth":2.6,"clip":true}},
{"transform":[{"filter":"datum.k==='96 (2ms)'"}],"mark":{"type":"line","strokeWidth":2.6,"clip":true}},
{"transform":[{"filter":"datum.k==='48 (1ms)'"}],"mark":{"type":"line","strokeWidth":2.6,"clip":true}},
{"transform":[{"filter":"datum.k==='24 (0.5ms)'"}],"mark":{"type":"line","strokeWidth":2.6,"clip":true}},
{"transform":[{"filter":"datum.k==='12 (0.25ms)'"}],"mark":{"type":"line","strokeWidth":2.6,"clip":true}},
{"transform":[{"filter":"datum.k==='6 (0.13ms)'"}],"mark":{"type":"line","strokeWidth":3,"clip":true},
"encoding":{
"x":{"field":"x","type":"quantitative","scale":{"domain":[0,756],"nice":false,"zero":false},"axis":{"orient":"top","values":[0,100,200,300,400,500,600,700],"labels":false,"title":null,"grid":false,"tickSize":-8,"tickColor":"#262626","domainColor":"#262626"}},
"y":{"field":"y","type":"quantitative","scale":{"domain":[0,1],"nice":false},"axis":{"orient":"right","values":[0,0.1,0.2,0.3,0.4,0.5,0.6,0.7,0.8,0.9,1],"labels":false,"title":null,"grid":false,"tickSize":-8,"tickColor":"#262626","domainColor":"#262626"}}
}}
],
"resolve":{"axis":{"x":"independent","y":"independent"}}
}
]
}
